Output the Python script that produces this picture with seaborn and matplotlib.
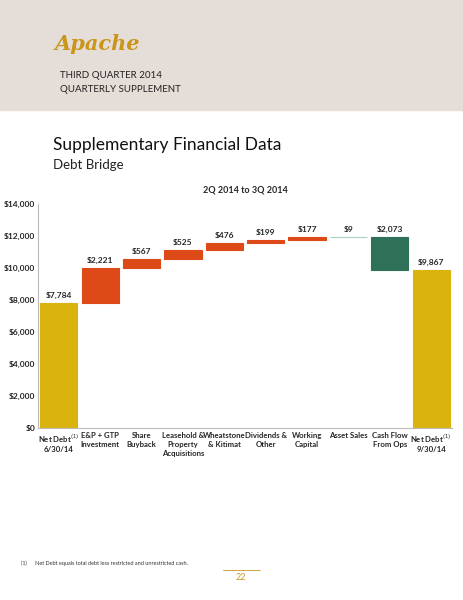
import matplotlib
matplotlib.use("Agg")
import matplotlib.pyplot as plt
import seaborn as sns
import numpy as np
import pandas as pd

categories = ["Net Debt$^{(1)}$\n6/30/14", "E&P + GTP\nInvestment", "Share\nBuyback",
              "Leasehold &\nProperty\nAcquisitions", "Wheatstone\n& Kitimat", "Dividends &\nOther",
              "Working\nCapital", "Asset Sales", "Cash Flow\nFrom Ops", "Net Debt$^{(1)}$\n9/30/14"]
changes = [7784, 2221, 567, 525, 476, 199, 177, -9, -2073, 9867]
kinds = ["total", "up", "up", "up", "up", "up", "up", "down_small", "down", "total"]
labels = ["$7,784", "$2,221", "$567", "$525", "$476", "$199", "$177", "$9", "$2,073", "$9,867"]

colors = {"total": "#DBB30F", "up": "#DD4A17", "down": "#2F7058", "down_small": "#A9CFC9"}

bottoms, heights = [], []
run = 0
for c, k in zip(changes, kinds):
    if k == "total":
        bottoms.append(0); heights.append(c); run = c
    elif c >= 0:
        bottoms.append(run); heights.append(c); run += c
    else:
        run += c
        bottoms.append(run); heights.append(-c)

df = pd.DataFrame({"cat": categories, "h": heights, "b": bottoms, "kind": kinds})

sns.set_style("white")
plt.rcParams['font.family'] = ['Lato', 'DejaVu Sans']
fig = plt.figure(figsize=(4.64, 6), dpi=100)
fig.patches.append(matplotlib.patches.Rectangle((0, 1 - 110/600), 1, 110/600, transform=fig.transFigure, color="#E5DDD8", zorder=0))
fig.text(0.118, 1 - 44/600, "Apache", fontsize=15, color="#C9961A", style="italic", weight="bold", family="DejaVu Serif", va="center")
fig.text(0.13, 1 - 75/600, "THIRD QUARTER 2014", fontsize=7, color="#222222", va="center")
fig.text(0.13, 1 - 89/600, "QUARTERLY SUPPLEMENT", fontsize=7, color="#222222", va="center")
fig.text(0.115, 1 - 145/600, "Supplementary Financial Data", fontsize=12.5, color="#111111", va="center")
fig.text(0.115, 1 - 165/600, "Debt Bridge", fontsize=9.5, color="#222222", va="center")

ax = fig.add_axes([0.082, 1 - 428/600, 0.892, 224/600])
for i in range(len(df)):
    row = df.iloc[[i]]
    col = colors[row["kind"].iloc[0]]
    sns.barplot(data=row, x="cat", y="h", order=categories, bottom=float(row["b"].iloc[0]),
                color=col, width=0.9, ax=ax, saturation=1, edgecolor=col, linewidth=0.8)
for i, (b, h, l) in enumerate(zip(bottoms, heights, labels)):
    ax.text(i, b + h + 250, l, ha="center", va="bottom", fontsize=6, weight="bold")
ax.set_ylim(0, 14000)
ax.set_xlim(-0.5, 9.5)
ax.set_yticks(np.arange(0, 14001, 2000))
ax.set_yticklabels([f"${v:,}" for v in range(0, 14001, 2000)], fontsize=6, weight="bold")
ax.set_xticks(range(10))
ax.set_xticklabels(categories, fontsize=5.6, weight="bold", va="top", linespacing=1.3)
ax.set_xlabel(""); ax.set_ylabel("")
ax.set_title("2Q 2014 to 3Q 2014", fontsize=6.5, weight="bold", pad=8)
for s in ["top", "right"]:
    ax.spines[s].set_visible(False)
ax.spines["left"].set_color("#BBBBBB"); ax.spines["bottom"].set_color("#BBBBBB")
ax.tick_params(axis="x", length=0, pad=3)
ax.tick_params(axis="y", length=0, pad=2)

fig.text(0.045, 1 - 563/600, "(1)      Net Debt equals total debt less restricted and unrestricted cash.", fontsize=4, color="#333333", va="center")
fig.add_artist(matplotlib.lines.Line2D([0.48, 0.56], [1 - 570/600, 1 - 570/600], color="#C9961A", lw=0.6))
fig.text(0.52, 1 - 577/600, "22", fontsize=6.5, color="#C9961A", ha="center", va="center")
fig.savefig("out.png", dpi=100)
